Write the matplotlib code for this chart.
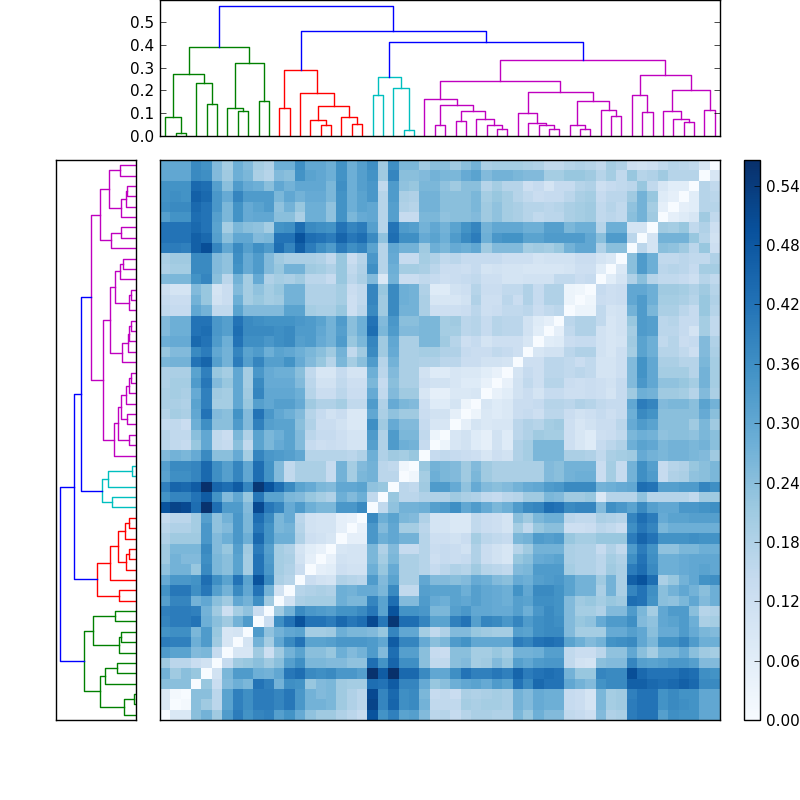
import numpy as np
import matplotlib
matplotlib.use('Agg')
import matplotlib.pyplot as plt
plt.style.use('classic')
plt.rcParams['font.size'] = 11
plt.rcParams['ytick.alignment'] = 'center_baseline'

# distances in hundredths, lower triangle, row 0 is the bottom row of the picture
lower = [
    [0],
    [8, 0],
    [8, 1, 0],
    [24, 24, 24, 0],
    [27, 21, 24, 22, 0],
    [21, 16, 16, 13, 11, 0],
    [33, 31, 31, 25, 26, 14, 0],
    [40, 39, 39, 28, 33, 21, 9, 0],
    [35, 36, 36, 26, 33, 22, 9, 10, 0],
    [38, 40, 40, 42, 28, 24, 21, 27, 33, 0],
    [39, 40, 40, 39, 27, 21, 12, 20, 23, 13, 0],
    [32, 38, 38, 27, 30, 24, 21, 30, 27, 36, 21, 0],
    [35, 41, 41, 36, 41, 32, 27, 37, 30, 42, 27, 11, 0],
    [29, 34, 34, 35, 43, 36, 31, 42, 31, 49, 37, 19, 17, 0],
    [23, 27, 27, 22, 37, 26, 24, 31, 20, 42, 34, 20, 18, 13, 0],
    [21, 27, 25, 25, 36, 26, 24, 31, 20, 42, 33, 20, 19, 11, 5, 0],
    [21, 26, 26, 26, 37, 25, 22, 32, 21, 40, 32, 20, 18, 10, 6, 4, 0],
    [18, 21, 21, 21, 34, 25, 28, 34, 28, 44, 35, 28, 28, 18, 12, 11, 9, 0],
    [16, 18, 18, 20, 34, 23, 25, 34, 26, 41, 35, 26, 27, 17, 11, 10, 10, 5, 0],
    [14, 16, 16, 20, 32, 23, 27, 34, 26, 43, 37, 26, 29, 16, 11, 10, 10, 5, 4, 0],
    [49, 52, 51, 43, 56, 43, 33, 33, 25, 51, 41, 38, 29, 33, 28, 26, 26, 34, 34, 37, 0],
    [35, 38, 38, 42, 47, 35, 25, 30, 22, 41, 31, 31, 26, 25, 22, 20, 18, 28, 25, 28, 15, 0],
    [39, 45, 44, 47, 56.6, 45, 43, 47, 38, 55, 49, 43, 37, 31, 29, 26, 25, 30, 30, 31, 23, 22, 0],
    [31, 36, 36, 38, 44, 36, 32, 38, 30, 43, 35, 25, 15, 19, 19, 19, 14, 27, 20, 26, 27, 16, 16, 0],
    [32, 37, 37, 38, 44, 36, 32, 38, 30, 43, 35, 25, 15, 19, 19, 19, 14, 27, 20, 25, 27, 16, 15, 2, 0],
    [25, 27, 26, 29, 37, 24, 24, 29, 20, 38, 34, 33, 32, 30, 17, 17, 17, 17, 16, 18, 28, 18, 21, 20, 22, 0],
    [16, 15, 14, 22, 30, 15, 14, 24, 15, 31, 26, 29, 31, 25, 14, 12, 13, 12, 10, 10, 32, 18, 33, 28, 27, 14, 0],
    [17, 15, 15, 24, 30, 15, 13, 26, 18, 31, 26, 28, 31, 25, 16, 14, 14, 12, 10, 10, 33, 18, 33, 26, 26, 15, 3, 0],
    [14, 15, 13, 28, 36, 24, 24, 33, 25, 39, 32, 31, 31, 24, 18, 13, 13, 11, 8, 8, 36, 21, 29, 25, 25, 14, 9, 9, 0],
    [17, 20, 19, 30, 42, 25, 24, 35, 25, 42, 34, 30, 28, 25, 17, 14, 11, 13, 8, 8, 30, 19, 23, 21, 21, 13, 11, 11, 5, 0],
    [19, 19, 18, 31, 39, 20, 20, 30, 22, 32, 30, 32, 32, 29, 21, 18, 18, 20, 15, 15, 33, 18, 29, 26, 25, 12, 7, 7, 10, 3, 0],
    [19, 20, 19, 29, 39, 21, 20, 30, 21, 38, 30, 30, 30, 28, 17, 13, 13, 16, 13, 13, 29, 15, 25, 21, 21, 9, 5, 5, 8, 8, 9, 0],
    [18, 20, 20, 33, 41, 25, 22, 30, 20, 37, 29, 29, 29, 25, 16, 11, 11, 15, 12, 12, 26, 14, 24, 19, 19, 12, 11, 11, 9, 7, 7, 4, 0],
    [18, 19, 19, 31, 39, 22, 20, 30, 20, 34, 29, 28, 28, 24, 15, 9, 9, 14, 10, 10, 28, 16, 25, 19, 19, 11, 7, 7, 9, 8, 8, 6, 4, 0],
    [26, 27, 27, 42, 45, 32, 27, 40, 32, 38, 32, 32, 35, 29, 25, 22, 17, 26, 20, 24, 33, 17, 27, 19, 19, 18, 18, 16, 16, 13, 13, 11, 11, 10, 0],
    [22, 25, 25, 37, 40, 30, 27, 38, 31, 33, 28, 31, 30, 28, 26, 24, 21, 27, 15, 21, 37, 21, 29, 19, 19, 20, 20, 18, 18, 14, 13, 13, 15, 14, 12, 0],
    [28, 29, 29, 44, 42, 33, 28, 42, 36, 36, 34, 36, 37, 32, 33, 29, 27, 33, 22, 26, 38, 21, 30, 19, 19, 26, 26, 21, 17, 12, 14, 10, 12, 12, 12, 9, 0],
    [25, 28, 28, 42, 43, 34, 32, 43, 37, 37, 37, 36, 37, 33, 33, 30, 27, 32, 24, 28, 43, 26, 33, 25, 25, 26, 26, 20, 20, 16, 17, 14, 17, 16, 16, 11, 6, 0],
    [25, 28, 28, 42, 42, 34, 32, 42, 37, 36, 35, 35, 35, 34, 33, 31, 27, 33, 24, 28, 42, 25, 34, 24, 24, 26, 26, 20, 21, 16, 17, 14, 17, 16, 16, 11, 7, 5, 0],
    [15, 14, 14, 30, 27, 15, 15, 31, 25, 25, 25, 25, 31, 31, 20, 19, 19, 22, 12, 16, 37, 21, 37, 27, 27, 19, 12, 12, 12, 13, 16, 12, 13, 15, 15, 16, 13, 15, 16, 0],
    [14, 13, 13, 27, 22, 11, 13, 28, 20, 22, 20, 21, 27, 27, 18, 18, 18, 20, 12, 15, 38, 21, 37, 28, 27, 19, 9, 9, 9, 11, 18, 12, 12, 16, 13, 18, 14, 18, 18, 3, 0],
    [12, 10, 10, 25, 22, 10, 13, 25, 20, 23, 20, 22, 27, 27, 18, 18, 18, 20, 13, 15, 38, 22, 37, 28, 27, 18, 7, 7, 11, 12, 17, 13, 13, 15, 15, 18, 14, 18, 18, 3, 2, 0],
    [25, 26, 26, 35, 38, 24, 16, 27, 20, 29, 18, 20, 19, 21, 16, 16, 14, 22, 16, 19, 25, 8, 27, 13, 13, 15, 14, 12, 13, 14, 15, 12, 12, 10, 10, 11, 11, 11, 15, 15, 13, 14, 0],
    [18, 20, 20, 37, 37, 25, 23, 35, 29, 33, 25, 22, 27, 27, 21, 20, 18, 22, 15, 18, 36, 17, 28, 20, 20, 19, 16, 13, 13, 12, 14, 10, 11, 10, 10, 9, 9, 9, 9, 10, 12, 12, 6, 0],
    [19, 21, 21, 37, 37, 25, 23, 36, 29, 33, 25, 21, 19, 19, 19, 18, 15, 22, 13, 17, 34, 17, 29, 14, 14, 20, 18, 15, 16, 14, 14, 14, 14, 12, 12, 12, 10, 11, 11, 11, 13, 13, 10, 8, 0],
    [40, 40, 39, 46, 50, 38, 30, 37, 32, 36, 33, 43, 38, 46, 40, 36, 33, 40, 36, 38, 31, 17, 30, 27, 27, 21, 28, 26, 29, 28, 30, 21, 25, 25, 25, 20, 21, 20, 22, 27, 30, 30, 18, 24, 24, 0],
    [42, 42, 42, 46, 44, 32, 24, 30, 30, 25, 26, 42, 42, 49, 43, 42, 40, 45, 41, 43, 37, 23, 43, 36, 36, 29, 31, 28, 33, 37, 40, 28, 34, 35, 35, 31, 31, 33, 33, 33, 33, 30, 24, 33, 33, 16, 0],
    [42, 42, 42, 44, 42, 31, 20, 26, 24, 23, 20, 35, 36, 43, 37, 36, 35, 42, 38, 40, 32, 17, 42, 33, 32, 27, 30, 27, 31, 35, 38, 27, 30, 30, 30, 28, 28, 32, 32, 26, 28, 28, 17, 28, 28, 10, 10, 0],
    [32, 35, 35, 43, 42, 32, 26, 35, 29, 30, 30, 24, 24, 19, 28, 28, 23, 35, 26, 29, 30, 17, 32, 14, 14, 26, 26, 23, 24, 24, 25, 21, 23, 20, 19, 17, 15, 16, 16, 19, 20, 21, 15, 16, 15, 24, 27, 21, 0],
    [36, 37, 37, 44, 42, 34, 26, 35, 29, 31, 33, 23, 27, 22, 28, 28, 23, 35, 28, 31, 30, 17, 32, 18, 17, 27, 27, 24, 24, 24, 26, 21, 23, 20, 19, 17, 17, 16, 17, 19, 20, 21, 15, 17, 15, 23, 27, 20, 5, 0],
    [35, 36, 35, 46, 44, 34, 29, 38, 33, 33, 33, 26, 30, 27, 29, 29, 26, 35, 28, 31, 34, 17, 33, 19, 18, 27, 27, 24, 24, 24, 26, 20, 22, 20, 17, 15, 13, 14, 14, 16, 19, 20, 14, 16, 16, 21, 27, 22, 7, 5, 0],
    [35, 35, 35, 44, 43, 32, 24, 33, 29, 28, 24, 30, 27, 30, 30, 30, 26, 36, 28, 32, 34, 15, 33, 23, 22, 26, 26, 23, 21, 24, 24, 17, 20, 17, 17, 12, 14, 10, 14, 14, 17, 18, 12, 14, 15, 16, 22, 15, 9, 6, 6, 0],
    [30, 30, 30, 37, 36, 25, 21, 28, 26, 19, 17, 25, 24, 35, 31, 30, 28, 35, 28, 32, 35, 21, 38, 24, 24, 25, 27, 26, 26, 29, 31, 25, 27, 27, 26, 25, 25, 20, 20, 22, 22, 21, 17, 20, 15, 22, 17, 18, 21, 17, 17, 17, 0],
    [30, 30, 30, 37, 35, 25, 20, 28, 25, 20, 18, 28, 28, 36, 30, 30, 28, 35, 28, 32, 36, 21, 36, 26, 26, 21, 24, 24, 21, 24, 27, 19, 20, 20, 20, 19, 18, 15, 15, 17, 18, 17, 15, 20, 18, 12, 11, 12, 15, 17, 16, 15, 9, 0],
]

# trees are (height, left, right), a plain int is a leaf position
top_green = (0.392, (0.272, (0.085, 0, (0.013, 1, 2)), (0.231, 3, (0.139, 4, 5))),
             (0.319, (0.124, 6, (0.108, 7, 8)), (0.155, 9, 10)))
top_red = (0.289, (0.124, 11, 12),
           (0.189, 13, (0.132, (0.069, 14, (0.048, 15, 16)), (0.082, 17, (0.051, 18, 19)))))
top_cyan = (0.257, (0.180, 20, 21), (0.209, 22, (0.026, 23, 24)))
top_magenta = (0.336,
               (0.243,
                (0.162, 25, (0.134, (0.047, 26, 27),
                             (0.108, (0.064, 28, 29), (0.073, 30, (0.050, 31, (0.031, 32, 33)))))),
                (0.192, (0.102, 34, (0.058, 35, (0.047, 36, (0.032, 37, 38)))),
                 (0.152, (0.048, 39, (0.032, 40, 41)), (0.114, 42, (0.089, 43, 44))))),
               (0.268, (0.180, 45, (0.107, 46, 47)),
                (0.200, (0.108, 48, (0.073, 49, (0.061, 50, 51))), (0.113, 52, 53))))
top_blue = [0.414, 0.463, 0.569]

left_green = (0.158, (0.110, (0.035, 0, (0.006, 1, 2)), (0.094, 3, (0.057, 4, 5))),
              (0.129, (0.051, 6, (0.044, 7, 8)), (0.063, 9, 10)))
left_red = (0.117, (0.051, 11, 12),
            (0.077, 13, (0.053, (0.029, 14, (0.020, 15, 16)), (0.033, 17, (0.021, 18, 19)))))
left_cyan = (0.104, (0.073, 20, 21), (0.084, 22, (0.011, 23, 24)))
left_magenta = (0.137,
                (0.099,
                 (0.066, 25, (0.054, (0.020, 26, 27),
                              (0.044, (0.027, 28, 29), (0.030, 30, (0.021, 31, (0.014, 32, 33)))))),
                 (0.077, (0.043, 34, (0.024, 35, (0.020, 36, (0.014, 37, 38)))),
                  (0.062, (0.021, 39, (0.014, 40, 41)), (0.047, 42, (0.038, 43, 44))))),
                (0.109, (0.074, 45, (0.044, 46, 47)),
                 (0.082, (0.045, 48, (0.030, 49, (0.026, 50, 51))), (0.047, 52, 53))))
left_blue = [0.167, 0.187, 0.230]

top_yticks = [0.0, 0.1, 0.2, 0.3, 0.4, 0.5]
cbar_ticks = [0.0, 0.06, 0.12, 0.18, 0.24, 0.30, 0.36, 0.42, 0.48, 0.54]

n = len(lower)
D = np.zeros((n, n))
for i, row in enumerate(lower):
    D[i, :i + 1] = row
    D[:i + 1, i] = row
D = D / 100.0


def draw_tree(ax, node, color, vertical):
    # returns (leaf position, height) of the node
    if isinstance(node, int):
        return node + 0.5, 0.0
    p1, h1 = draw_tree(ax, node[1], color, vertical)
    p2, h2 = draw_tree(ax, node[2], color, vertical)
    return draw_link(ax, p1, h1, p2, h2, node[0], color, vertical)


def draw_link(ax, p1, h1, p2, h2, h, color, vertical):
    if vertical:
        ax.plot([p1, p1, p2, p2], [h1, h, h, h2], color=color, lw=1)
    else:
        ax.plot([h1, h, h, h2], [p1, p1, p2, p2], color=color, lw=1)
    return (p1 + p2) / 2.0, h


def dendrogram(ax, green, red, cyan, magenta, blue, vertical):
    g = draw_tree(ax, green, 'g', vertical)
    r = draw_tree(ax, red, 'r', vertical)
    c = draw_tree(ax, cyan, 'c', vertical)
    m = draw_tree(ax, magenta, 'm', vertical)
    a = draw_link(ax, c[0], c[1], m[0], m[1], blue[0], 'b', vertical)
    b = draw_link(ax, r[0], r[1], a[0], a[1], blue[1], 'b', vertical)
    draw_link(ax, g[0], g[1], b[0], b[1], blue[2], 'b', vertical)


fig = plt.figure(figsize=(8, 8))

ax1 = fig.add_axes([0.07, 0.1, 0.1, 0.7])
dendrogram(ax1, left_green, left_red, left_cyan, left_magenta, left_blue, False)
ax1.set_xlim(left_blue[-1] * 1.05, 0)
ax1.set_ylim(0, n)
ax1.set_xticks([])
ax1.set_yticks([])

ax2 = fig.add_axes([0.2, 0.83, 0.7, 0.17])
dendrogram(ax2, top_green, top_red, top_cyan, top_magenta, top_blue, True)
ax2.set_xlim(0, n)
ax2.set_ylim(0, top_blue[-1] * 1.05)
ax2.set_xticks([])
ax2.set_yticks(top_yticks)

axm = fig.add_axes([0.2, 0.1, 0.7, 0.7])
im = axm.imshow(D, aspect='auto', origin='lower', cmap='Blues', interpolation='nearest')
axm.set_xticks([])
axm.set_yticks([])

axc = fig.add_axes([0.93, 0.1, 0.02, 0.7])
cb = fig.colorbar(im, cax=axc, ticks=cbar_ticks, format='%.2f')

fig.savefig('out.png', dpi=100)
